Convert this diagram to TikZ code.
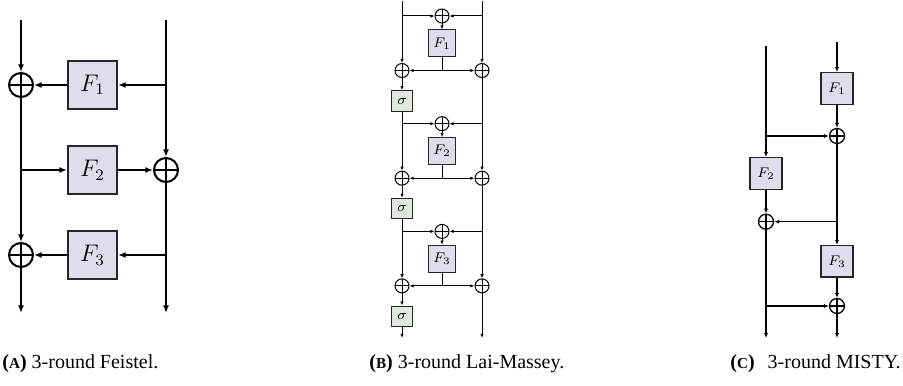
\documentclass[tikz,border=0pt]{standalone}
\usepackage[no-math]{fontspec}
\newfontfamily\capfont{Liberation Serif}
\usetikzlibrary{arrows.meta}
\definecolor{fboxc}{RGB}{221,221,236}
\definecolor{sboxc}{RGB}{223,232,220}
\tikzset{
  xorsym/.style={circle, draw, inner sep=0pt, minimum size=#1,
    path picture={\draw (path picture bounding box.north) -- (path picture bounding box.south)
                        (path picture bounding box.west) -- (path picture bounding box.east);}},
  fboxA/.style={draw=black!85, fill=fboxc, inner sep=0pt, minimum width=24.5pt, minimum height=24pt, font=\fontsize{11.5}{13}\selectfont},
  fboxB/.style={draw=black!85, fill=fboxc, inner sep=0pt, minimum width=13.5pt, minimum height=13.5pt, font=\fontsize{7}{8}\selectfont},
  sboxB/.style={draw=black!85, fill=sboxc, inner sep=0pt, minimum width=10.25pt, minimum height=10.25pt, font=\fontsize{7}{8}\selectfont},
  fboxC/.style={draw=black!85, fill=fboxc, inner sep=0pt, minimum width=16pt, minimum height=15.8pt, font=\fontsize{7.3}{8}\selectfont},
  capstyle/.style={anchor=base west, inner sep=0pt, font=\capfont},
}
\newcommand{\capletter}[1]{\textbf{(}{\bfseries\fontsize{7.6}{9}\selectfont #1}\textbf{)}}
\begin{document}
\begin{tikzpicture}[x=0.5pt,y=-0.5pt]
\useasboundingbox (0,0) rectangle (903,385);

% ---------------- (A) Feistel ----------------
\begin{scope}[line width=1pt, >={Latex[length=3.8pt,width=3pt]}]
\node[fboxA] (F1) at (92.5,85) {$F_1$};
\node[xorsym=12pt] (X1) at (21,85) {};
\node[fboxA] (F2) at (92.5,170) {$F_2$};
\node[xorsym=12pt] (X2) at (166,170) {};
\node[fboxA] (F3) at (92.5,255) {$F_3$};
\node[xorsym=12pt] (X3) at (21,255) {};
\coordinate (aL) at (21,20);
\coordinate (aR) at (166,20);
\coordinate (bL) at (21,313);
\coordinate (bR) at (166,313);
\coordinate (r1) at (166,85);
\coordinate (l2) at (21,170);
\coordinate (r3) at (166,255);
\draw[->] (aL) -- (X1);
\draw[->] (aR) -- (X2);
\draw[->] (r1) -- (F1);
\draw[->] (F1) -- (X1);
\draw[->] (X1) -- (X3);
\draw[->] (l2) -- (F2);
\draw[->] (F2) -- (X2);
\draw[->] (r3) -- (F3);
\draw[->] (F3) -- (X3);
\draw[->] (X3) -- (bL);
\draw[->] (X2) -- (bR);
\end{scope}

% ---------------- (B) Lai-Massey ----------------
\begin{scope}[line width=0.5pt, >={Latex[length=2.1pt,width=1.7pt]}]
\coordinate (S0) at (402,1);
\coordinate (XR0) at (482,1);
\foreach \i/\t in {1/16, 2/123.7, 3/231.4} {
  \pgfmathtruncatemacro\p{\i-1}
  \node[xorsym=7pt] (T\i) at (442,\t) {};
  \node[fboxB] (F\i b) at (442,\t+27.5) {$F_\i$};
  \node[xorsym=7pt] (XL\i) at (402,\t+54.5) {};
  \node[xorsym=7pt] (XR\i) at (482,\t+54.5) {};
  \node[sboxB] (S\i) at (402,\t+85) {$\sigma$};
  \coordinate (bl\i) at (402,\t);
  \coordinate (br\i) at (482,\t);
  \coordinate (m\i) at (442,\t+54.5);
  \draw[->] (S\p) -- (XL\i);
  \draw[->] (XR\p) -- (XR\i);
  \draw[->] (bl\i) -- (T\i);
  \draw[->] (br\i) -- (T\i);
  \draw[->] (T\i) -- (F\i b);
  \draw (F\i b) -- (m\i);
  \draw[->] (m\i) -- (XL\i);
  \draw[->] (m\i) -- (XR\i);
  \draw[->] (XL\i) -- (S\i);
}
\coordinate (eL) at (402,338);
\coordinate (eR) at (482,338);
\draw[->] (S3) -- (eL);
\draw[->] (XR3) -- (eR);
\end{scope}

% ---------------- (C) MISTY ----------------
\begin{scope}[line width=0.65pt, >={Latex[length=2.5pt,width=2.1pt]}]
\coordinate (cRt) at (837,42);
\coordinate (cLt) at (766,46);
\node[fboxC] (G1) at (837,88.5) {$F_1$};
\node[xorsym=7.5pt] (Y1) at (837,136) {};
\node[fboxC] (G2) at (766,173.5) {$F_2$};
\node[xorsym=7.5pt] (Y2) at (766,221.7) {};
\node[fboxC] (G3) at (837,261.3) {$F_3$};
\node[xorsym=7.5pt] (Y3) at (837,306) {};
\coordinate (c1) at (766,136);
\coordinate (c2) at (837,221.7);
\coordinate (c3) at (766,306);
\coordinate (cLe) at (766,338);
\coordinate (cRe) at (837,338);
\draw[->] (cRt) -- (G1);
\draw[->] (G1) -- (Y1);
\draw[->] (cLt) -- (G2);
\draw[->] (c1) -- (Y1);
\draw[->] (G2) -- (Y2);
\draw[->] (Y1) -- (G3);
\draw[->] (c2) -- (Y2);
\draw[->] (G3) -- (Y3);
\draw[->] (Y2) -- (cLe);
\draw[->] (c3) -- (Y3);
\draw[->] (Y3) -- (cRe);
\end{scope}

% ---------------- captions ----------------
\node[capstyle] (capA) at (2,368) {\capletter{A} 3-round Feistel.};
\node[capstyle] (capB) at (369,368) {\capletter{B} 3-round Lai-Massey.};
\node[capstyle] (capC) at (730,368) {\capletter{C}\hspace{0.4em} 3-round MISTY.};
\end{tikzpicture}
\end{document}
